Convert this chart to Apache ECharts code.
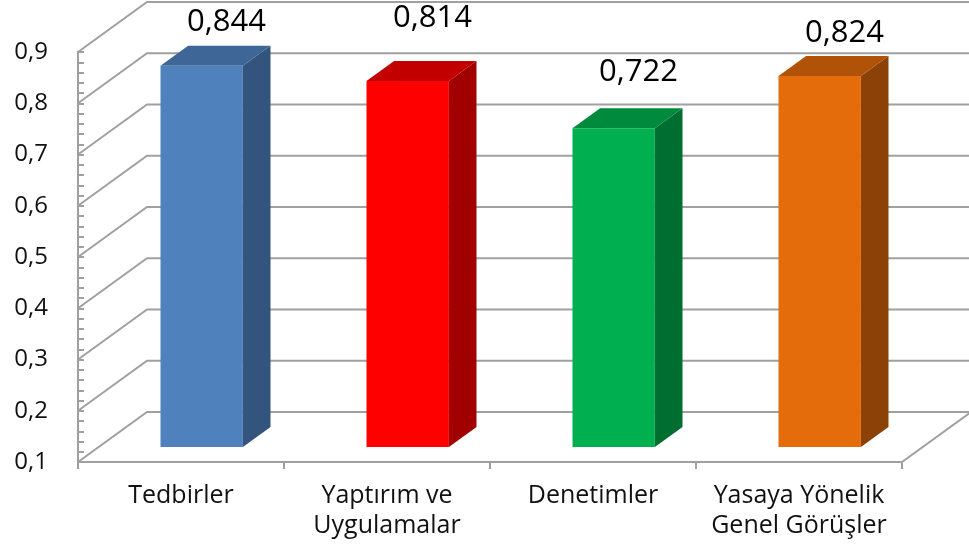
<!DOCTYPE html>
<html>
<head>
<meta charset="utf-8">
<script src="https://cdn.jsdelivr.net/npm/echarts@6/dist/echarts.min.js"></script>
<style>
html,body{margin:0;padding:0;background:#fff;}
#c{width:969px;height:553px;}
</style>
</head>
<body>
<div id="c"></div>
<script>
// ---- data ----
const categories = ['Tedbirler', 'Yaptırım ve\nUygulamalar', 'Denetimler', 'Yasaya Yönelik\nGenel Görüşler'];
const values = [0.844, 0.814, 0.722, 0.824];
const yTickValues = [0.1, 0.2, 0.3, 0.4, 0.5, 0.6, 0.7, 0.8, 0.9];

// ---- style ----
const FONT = '"Open Sans", sans-serif';
const GRID_COLOR = '#a0a0a0';
const DEPTH_DX = 69, DEPTH_DY = -50;       // full 3D depth of the plot box
const BAR_FRONT = 0.3, BAR_DEPTH = 0.4;    // bar position in depth (fraction)
const BAR_WIDTH = 0.4;                     // fraction of band width
const faceColors = [
  { front: '#4f81bd', top: '#3e6697', side: '#33547d' },
  { front: '#ff0000', top: '#c20000', side: '#a00000' },
  { front: '#00b050', top: '#008a3e', side: '#006e31' },
  { front: '#e46c0a', top: '#b05308', side: '#8c4206' }
];
const labelLift = [24, 43, 36, 23];        // label nudges above bar top (px)

const chart = echarts.init(document.getElementById('c'), null, { renderer: 'canvas' });

function gridRender(params, api) {
  const cs = params.coordSys;
  const v = api.value(1);
  const y = api.coord([0, v])[1];
  const x0 = cs.x;
  const pts = [[x0, y], [x0 + DEPTH_DX, y + DEPTH_DY], [x0 + cs.width + DEPTH_DX + 20, y + DEPTH_DY]];
  return { type: 'polyline', shape: { points: pts }, style: { stroke: GRID_COLOR, lineWidth: 2, fill: null }, silent: true };
}

function floorRender(params, api) {
  const cs = params.coordSys;
  const x = cs.x + cs.width, y = cs.y + cs.height;
  return { type: 'polyline', shape: { points: [[x, y], [x + DEPTH_DX, y + DEPTH_DY]] }, style: { stroke: GRID_COLOR, lineWidth: 2, fill: null }, silent: true };
}

function barRender(params, api) {
  const i = api.value(0);
  const v = api.value(1);
  const band = api.size([1, 0])[0];
  const w = band * BAR_WIDTH;
  const ox = DEPTH_DX * BAR_FRONT, oy = DEPTH_DY * BAR_FRONT;
  const bx = DEPTH_DX * BAR_DEPTH, by = DEPTH_DY * BAR_DEPTH;
  const top = api.coord([i, v]);
  const bot = api.coord([i, yTickValues[0]]);
  const cx = top[0] + ox;
  const x1 = cx - w / 2, x2 = cx + w / 2;
  const yt = top[1] + oy, yb = bot[1] + oy;
  const c = faceColors[i];
  return {
    type: 'group',
    children: [
      { type: 'polygon', shape: { points: [[x2, yt], [x2 + bx, yt + by], [x2 + bx, yb + by], [x2, yb]] }, style: { fill: c.side } },
      { type: 'polygon', shape: { points: [[x1, yt], [x1 + bx, yt + by], [x2 + bx, yt + by], [x2, yt]] }, style: { fill: c.top } },
      { type: 'rect', shape: { x: x1, y: yt, width: w, height: yb - yt }, style: { fill: c.front } },
      { type: 'text', x: cx + bx * 0.9, y: yt + by - labelLift[i],
        style: { text: v.toFixed(3).replace('.', ','), font: '31px ' + FONT, fill: '#000', align: 'center', verticalAlign: 'middle' } }
    ]
  };
}

chart.setOption({
  animation: false,
  backgroundColor: '#fff',
  grid: { left: 78, right: 67, top: 52, bottom: 91, containLabel: false },
  xAxis: {
    type: 'category',
    data: categories,
    axisLine: { show: true, lineStyle: { color: GRID_COLOR, width: 2 } },
    axisTick: { show: true, length: 7, alignWithLabel: false, lineStyle: { color: GRID_COLOR, width: 2 } },
    axisLabel: { color: '#111', fontFamily: FONT, fontSize: 25, lineHeight: 30, margin: 19, interval: 0 },
    splitLine: { show: false }
  },
  yAxis: {
    type: 'value',
    min: 0.1, max: 0.9, interval: 0.1,
    axisLine: { show: true, lineStyle: { color: GRID_COLOR, width: 2 } },
    axisTick: { show: true, inside: true, length: 6, lineStyle: { color: GRID_COLOR, width: 2 } },
    minorTick: { show: true, splitNumber: 5, length: 6, lineStyle: { color: GRID_COLOR, width: 2 } },
    splitLine: { show: false },
    axisLabel: { color: '#111', fontFamily: FONT, fontSize: 24, margin: 30,
      formatter: v => v.toFixed(1).replace('.', ',') }
  },
  series: [
    { type: 'custom', coordinateSystem: 'cartesian2d', renderItem: gridRender, clip: false, z: 1,
      data: yTickValues.map(v => [0, v]), encode: { x: 0, y: 1 }, silent: true },
    { type: 'custom', coordinateSystem: 'cartesian2d', renderItem: floorRender, clip: false, z: 1,
      data: [[0, yTickValues[0]]], silent: true },
    { type: 'custom', coordinateSystem: 'cartesian2d', renderItem: barRender, clip: false, z: 5,
      data: values.map((v, i) => [i, v]), encode: { x: 0, y: 1 } }
  ]
});
</script>
</body>
</html>
